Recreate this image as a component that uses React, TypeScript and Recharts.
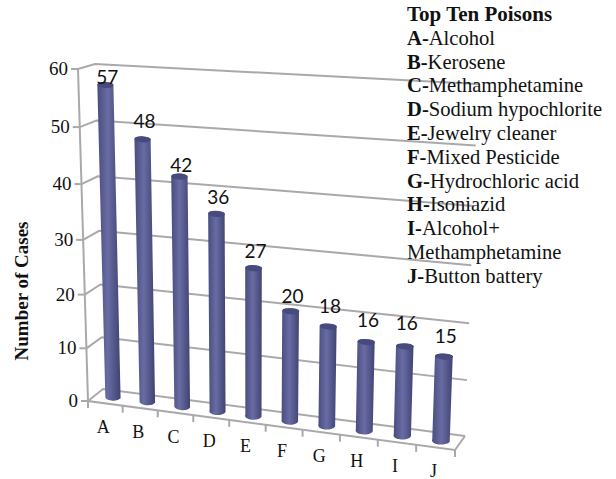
import React from "react";
import { BarChart, Bar, XAxis, YAxis, CartesianGrid, LabelList } from "recharts";

const categories = ["A", "B", "C", "D", "E", "F", "G", "H", "I", "J"];
const cases = [57, 48, 42, 36, 27, 20, 18, 16, 16, 15];
const yTicks = [0, 10, 20, 30, 40, 50, 60];
const legendTitle = "Top Ten Poisons";
const legendKeys = ["A", "B", "C", "D", "E", "F", "G", "H", "I", "", "J"];
const legendNames = [
  "Alcohol",
  "Kerosene",
  "Methamphetamine",
  "Sodium hypochlorite",
  "Jewelry cleaner",
  "Mixed Pesticide",
  "Hydrochloric acid",
  "Isoniazid",
  "Alcohol+",
  "Methamphetamine",
  "Button battery",
];

const data = categories.map((name, i) => ({ name, value: cases[i] }));

const WIDTH = 616;
const HEIGHT = 479;
const LEFT = 90;
const TOP = 70;
const PLOT_W = 380;
const PLOT_H = 330;
const GRID = "#a9a9ad";
const SERIF = "'Liberation Serif', serif";
// how far each value label sits above its bar
const LABEL_LIFT = [1, 11, 5, 10, 10, 8, 14, 15, 17, 14];

// the flat plot is projected onto two planes of a perspective box
type Pt = [number, number];

function quad(p0: Pt, p1: Pt, p2: Pt, p3: Pt) {
  const dx1 = p1[0] - p2[0];
  const dx2 = p3[0] - p2[0];
  const dx3 = p0[0] - p1[0] + p2[0] - p3[0];
  const dy1 = p1[1] - p2[1];
  const dy2 = p3[1] - p2[1];
  const dy3 = p0[1] - p1[1] + p2[1] - p3[1];
  const den = dx1 * dy2 - dx2 * dy1;
  const g = (dx3 * dy2 - dx2 * dy3) / den;
  const h = (dx1 * dy3 - dx3 * dy1) / den;
  const a = p1[0] - p0[0] + g * p1[0];
  const b = p3[0] - p0[0] + h * p3[0];
  const d = p1[1] - p0[1] + g * p1[1];
  const e = p3[1] - p0[1] + h * p3[1];
  return (u: number, v: number): Pt => {
    const w = g * u + h * v + 1;
    return [(a * u + b * v + p0[0]) / w, (d * u + e * v + p0[1]) / w];
  };
}

const front = quad([78, 69], [468, 98], [455, 450], [88, 401]);
const back = quad([95, 64], [478, 84], [465, 436], [103, 389]);
const middle = (u: number, v: number): Pt => {
  const f = front(u, v);
  const b = back(u, v);
  return [(f[0] + b[0]) / 2, (f[1] + b[1]) / 2];
};
const toU = (x: number) => (x - LEFT) / PLOT_W;
const toV = (y: number) => (y - TOP) / PLOT_H;

const line = (pts: Pt[]) => "M" + pts.map((p) => p.join(" ")).join("L");

function GridLine(props: any) {
  const v = toV(props.y1);
  return (
    <path
      d={line([front(0, v), back(0, v), back(1, v)])}
      fill="none"
      stroke={GRID}
      strokeWidth={2}
    />
  );
}

function Frame() {
  return (
    <g fill="none" stroke={GRID} strokeWidth={2}>
      <path d={line([front(0, 0), front(0, 1), front(1, 1), back(1, 1)])} />
    </g>
  );
}

function YTick(props: any) {
  const [px, py] = front(0, toV(props.y));
  return (
    <g>
      <path d={line([[px - 7, py], [px, py]])} stroke={GRID} strokeWidth={2} />
      <text
        x={px - 10}
        y={py + 6}
        textAnchor="end"
        fontFamily={SERIF}
        fontSize={19}
        fill="#111"
      >
        {props.payload.value}
      </text>
    </g>
  );
}

function XTick(props: any) {
  const i = props.index;
  const [cx, cy] = front(toU(props.x), 1);
  const [mx, my] = front((i + 1) / 10, 1);
  const [sx, sy] = front(0, 1);
  return (
    <g>
      <path d={line([[mx, my], [mx, my + 7]])} stroke={GRID} strokeWidth={2} />
      {i === 0 && <path d={line([[sx, sy], [sx, sy + 7]])} stroke={GRID} strokeWidth={2} />}
      <text
        x={cx - 2}
        y={cy + 30}
        textAnchor="middle"
        fontFamily={SERIF}
        fontSize={18}
        fill="#111"
      >
        {props.payload.value}
      </text>
    </g>
  );
}

function Cylinder(props: any) {
  const { x, y, width } = props;
  const v = toV(y);
  const tl = middle(toU(x), v);
  const tr = middle(toU(x + width), v);
  const bl = middle(toU(x), 1);
  const br = middle(toU(x + width), 1);
  const rx = (tr[0] - tl[0]) / 2;
  const body =
    `M${tl.join(" ")}L${bl.join(" ")}` +
    `A${rx} 4 0 0 0 ${br.join(" ")}L${tr.join(" ")}` +
    `A${rx} 3 0 0 0 ${tl.join(" ")}Z`;
  const tilt = (Math.atan2(tr[1] - tl[1], tr[0] - tl[0]) * 180) / Math.PI;
  const cx = (tl[0] + tr[0]) / 2;
  const cy = (tl[1] + tr[1]) / 2;
  return (
    <g>
      <path d={body} fill="url(#barShade)" />
      <ellipse
        cx={cx}
        cy={cy}
        rx={rx}
        ry={3}
        fill="#464a7c"
        transform={`rotate(${tilt} ${cx} ${cy})`}
      />
    </g>
  );
}

function ValueLabel(props: any) {
  const { x, y, width, value, index } = props;
  const [px, py] = middle(toU(x + width / 2), toV(y));
  return (
    <text
      x={px + 2}
      y={py - LABEL_LIFT[index]}
      textAnchor="middle"
      fontFamily="Lato, sans-serif"
      fontSize={19}
      fill="#111"
    >
      {value}
    </text>
  );
}

function AxisTitle() {
  return (
    <text
      transform="translate(28 291) rotate(-90)"
      textAnchor="middle"
      fontFamily={SERIF}
      fontWeight="bold"
      fontSize={19}
      fill="#111"
    >
      Number of Cases
    </text>
  );
}

function PoisonList() {
  return (
    <div
      style={{
        position: "absolute",
        left: 407,
        top: 3,
        fontFamily: SERIF,
        fontSize: 20.6,
        lineHeight: "23.8px",
        color: "#111",
        whiteSpace: "nowrap",
      }}
    >
      <div style={{ fontWeight: "bold", fontSize: 21 }}>{legendTitle}</div>
      {legendNames.map((name, i) => (
        <div key={i}>
          {legendKeys[i] && <b>{legendKeys[i]}-</b>}
          {name}
        </div>
      ))}
    </div>
  );
}

export default function App() {
  return (
    <div style={{ position: "absolute", left: 0, top: 0, width: WIDTH, height: HEIGHT, background: "#fff" }}>
      <BarChart
        width={WIDTH}
        height={HEIGHT}
        data={data}
        margin={{ left: 30, top: TOP, right: WIDTH - LEFT - PLOT_W, bottom: 49 }}
      >
        <defs>
          <linearGradient id="barShade" x1="0" y1="0" x2="1" y2="0">
            <stop offset="0" stopColor="#484c80" />
            <stop offset="0.45" stopColor="#686ca2" />
            <stop offset="1" stopColor="#3f4272" />
          </linearGradient>
        </defs>
        <CartesianGrid vertical={false} horizontal={(p: any) => <GridLine key={p.index} {...p} />} />
        <Frame />
        <XAxis dataKey="name" height={30} axisLine={false} tickLine={false} interval={0} tick={(p: any) => <XTick {...p} />} />
        <YAxis
          width={60}
          domain={[0, 60]}
          ticks={yTicks}
          axisLine={false}
          tickLine={false}
          tick={(p: any) => <YTick {...p} />}
        />
        <AxisTitle />
        <Bar dataKey="value" barSize={17} isAnimationActive={false} shape={(p: any) => <Cylinder {...p} />}>
          <LabelList dataKey="value" content={(p: any) => <ValueLabel {...p} />} />
        </Bar>
      </BarChart>
      <PoisonList />
    </div>
  );
}
